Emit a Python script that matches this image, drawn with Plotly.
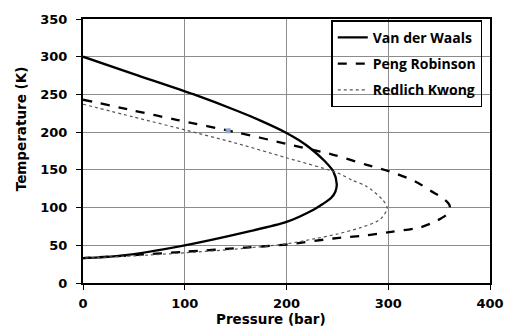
import plotly.graph_objects as go

# Van der Waals (upper branch -> nose -> lower branch)
vdw_p = [0, 50, 109, 150, 175, 200, 212, 224, 238, 246, 249.4, 248, 244, 236, 227, 200, 160, 100, 36, 0]
vdw_t = [300, 277, 250, 229, 215, 199, 189.5, 178, 161, 148, 131, 121, 113, 105, 97.5, 81, 67.5, 50, 36, 33]

# Peng Robinson
pr_p = [0, 50, 93, 150, 200, 246, 278, 301, 326, 342, 355, 360.4, 358, 348, 332, 301, 278, 246, 200, 160, 100, 50, 0]
pr_t = [243, 228.5, 216, 200, 184.5, 170, 157, 148, 135, 122, 111, 102.4, 91.5, 82.8, 74, 67.5, 63, 59, 51, 47, 41.4, 37, 33]

# Redlich Kwong
rk_p = [0, 50, 100, 150, 200, 250, 265, 278, 294, 299, 294, 288, 272, 250, 227, 200, 150, 100, 50, 0]
rk_t = [237, 220, 203, 185.5, 166, 146, 136, 128.6, 111, 99.4, 87, 81, 73, 65, 58.5, 52, 45, 40, 36, 33]

# small stray point
pt_p = [142.6]
pt_t = [201.8]

x_ticks = [0, 100, 200, 300, 400]
y_ticks = [0, 50, 100, 150, 200, 250, 300, 350]

fig = go.Figure()
fig.add_trace(go.Scatter(x=vdw_p, y=vdw_t, mode="lines", name="Van der Waals",
                         line=dict(color="black", width=2.3, shape="spline", smoothing=0.8), legendgroup="a"))
fig.add_trace(go.Scatter(x=pr_p, y=pr_t, mode="lines", name="Peng Robinson",
                         line=dict(color="black", width=2.3, dash="dash", shape="spline", smoothing=0.8), legendgroup="b"))
fig.add_trace(go.Scatter(x=rk_p, y=rk_t, mode="lines", name="Redlich Kwong",
                         line=dict(color="#555555", width=1.2, dash="dot", shape="spline", smoothing=0.8), legendgroup="c"))
fig.add_trace(go.Scatter(x=pt_p, y=pt_t, mode="markers", showlegend=False,
                         marker=dict(color="#8fa8c8", size=5, symbol="square")))

tickfont = dict(family="DejaVu Sans", size=13, color="black", weight="bold")
fig.update_layout(
    width=516, height=326,
    margin=dict(l=83, r=15, t=16, b=43),
    paper_bgcolor="white", plot_bgcolor="white",
    showlegend=True,
    legend=dict(x=0.981, y=0.995, xanchor="right", yanchor="top",
                bgcolor="rgba(255,255,255,0)", bordercolor="black", borderwidth=1.5,
                font=dict(family="Open Sans", size=14, color="black", weight="bold"),
                itemwidth=30, traceorder="grouped", tracegroupgap=5),
    xaxis=dict(range=[0, 400], tickvals=x_ticks, ticktext=[str(v) for v in x_ticks],
               showgrid=True, gridcolor="#8c8c8c", gridwidth=1,
               showline=True, linecolor="black", linewidth=2, mirror=True,
               ticks="outside", ticklen=5, tickcolor="black", tickwidth=1,
               tickfont=tickfont, ticklabelstandoff=2, zeroline=False),
    yaxis=dict(range=[0, 350], tickvals=y_ticks, ticktext=[str(v) for v in y_ticks],
               showgrid=True, gridcolor="#8c8c8c", gridwidth=1,
               showline=True, linecolor="black", linewidth=2, mirror=True,
               ticks="outside", ticklen=5, tickcolor="black", tickwidth=1,
               tickfont=tickfont, ticklabelstandoff=6, zeroline=False),
    annotations=[
        dict(text="Pressure (bar)", xref="paper", yref="paper", x=0.462, y=-0.137,
             xanchor="center", yanchor="middle", showarrow=False,
             font=dict(family="DejaVu Sans", size=13.5, color="black", weight="bold")),
        dict(text="Temperature (K)", xref="paper", yref="paper", x=-0.153, y=0.585,
             xanchor="center", yanchor="middle", showarrow=False, textangle=-90,
             font=dict(family="DejaVu Sans", size=13.5, color="black", weight="bold")),
    ],
)

fig.write_html("out.html", config={"displayModeBar": False},
               post_script="document.body.style.margin='0px';")
